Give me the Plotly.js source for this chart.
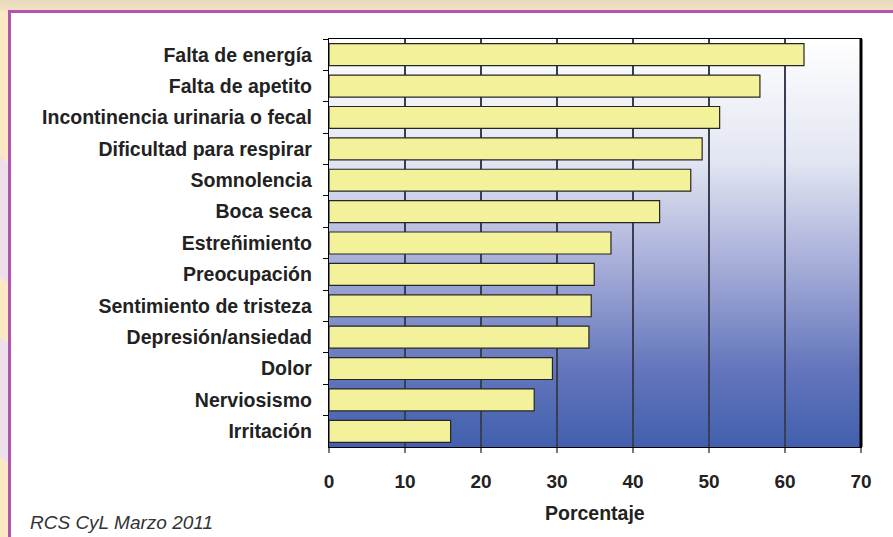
<!DOCTYPE html>
<html>
<head>
<meta charset="utf-8">
<script src="https://cdn.plot.ly/plotly-3.0.1.min.js"></script>
<style>
html,body{margin:0;padding:0;width:893px;height:537px;overflow:hidden;background:#fde8c6;}
#top{position:absolute;left:0;top:0;width:893px;height:11px;background:linear-gradient(to bottom,#e8d9c0,#f6e2c2);}
#deco1{position:absolute;left:-30px;top:150px;width:40px;height:120px;background:#eee0ea;transform:skewY(35deg);}
#deco2{position:absolute;left:-30px;top:330px;width:40px;height:120px;background:#eee0ea;transform:skewY(35deg);}
#panel{position:absolute;left:8px;top:10px;width:900px;height:540px;background:#ffffff;border-left:3px solid #b354b0;border-top:3px solid #b354b0;}
#chart{position:absolute;left:0;top:0;width:893px;height:537px;}
</style>
</head>
<body>
<div id="top"></div>
<div id="deco1"></div>
<div id="deco2"></div>
<div id="panel"></div>
<div id="chart"></div>
<script>
var categories = ["Falta de energía","Falta de apetito","Incontinencia urinaria o fecal","Dificultad para respirar","Somnolencia","Boca seca","Estreñimiento","Preocupación","Sentimiento de tristeza","Depresión/ansiedad","Dolor","Nerviosismo","Irritación"];
var values = [62.5, 56.7, 51.4, 49.1, 47.6, 43.5, 37.1, 34.9, 34.5, 34.2, 29.4, 27.0, 16.0];
var xTicks = [0,10,20,30,40,50,60,70];
var xTitle = "Porcentaje";
var sourceNote = "RCS CyL Marzo 2011";

var grad = '<svg xmlns="http://www.w3.org/2000/svg" width="100" height="100" preserveAspectRatio="none">' +
  '<defs><linearGradient id="g" x1="0" y1="0" x2="0" y2="1">' +
  '<stop offset="0" stop-color="#ffffff"/>' +
  '<stop offset="0.3" stop-color="#e2e5f2"/>' +
  '<stop offset="0.55" stop-color="#a7aed8"/>' +
  '<stop offset="0.8" stop-color="#6577bd"/>' +
  '<stop offset="1" stop-color="#4160ad"/>' +
  '</linearGradient></defs><rect width="100" height="100" fill="url(#g)"/></svg>';
var gradUri = 'data:image/svg+xml;base64,' + btoa(grad);

var fam = '"Liberation Sans", Arial, sans-serif';

var trace = {
  type: 'bar',
  orientation: 'h',
  y: categories,
  x: values,
  marker: {color: '#f3f29b', line: {color: '#262626', width: 1.2}},
  hoverinfo: 'x+y'
};

var layout = {
  width: 893, height: 537,
  margin: {l: 329, r: 32, t: 39, b: 90, pad: 0},
  paper_bgcolor: 'rgba(0,0,0,0)',
  plot_bgcolor: 'rgba(0,0,0,0)',
  bargap: 0.3,
  showlegend: false,
  font: {family: fam, size: 19, color: '#222'},
  xaxis: {
    range: [0, 70],
    tickvals: xTicks,
    ticktext: xTicks.map(String),
    tickfont: {family: fam, size: 19, color: '#222', weight: 'bold'},
    showgrid: true, gridcolor: '#3a3e55', gridwidth: 1.5,
    zeroline: false,
    showline: true, linecolor: '#000', linewidth: 1.2, mirror: true,
    ticks: 'outside', ticklen: 5, tickcolor: '#777', tickwidth: 1.5,
    ticklabelstandoff: 12,
    fixedrange: true
  },
  yaxis: {
    autorange: 'reversed',
    type: 'category',
    tickfont: {family: fam, size: 19.5, color: '#222', weight: 'bold'},
    showgrid: false,
    showline: true, linecolor: '#000', linewidth: 1.2, mirror: true,
    ticks: 'outside', tickson: 'boundaries', ticklen: 5, tickcolor: '#000', tickwidth: 1,
    ticklabelstandoff: 12,
    fixedrange: true
  },
  images: [{
    source: gradUri, xref: 'paper', yref: 'paper',
    x: 0, y: 1, sizex: 1, sizey: 1, sizing: 'stretch',
    xanchor: 'left', yanchor: 'top', layer: 'below'
  }],
  shapes: [{
    type: 'line', xref: 'paper', yref: 'paper', x0: 1, x1: 1, y0: 0, y1: 1,
    line: {color: '#000', width: 3}
  }],
  annotations: [
    {text: '<b>' + xTitle + '</b>', xref: 'paper', yref: 'paper', x: 0.5, y: -0.162,
     xanchor: 'center', yanchor: 'middle', showarrow: false,
     font: {family: fam, size: 19.5, color: '#222'}},
    {text: '<i>' + sourceNote + '</i>', xref: 'paper', yref: 'paper', x: -0.565, y: -0.184,
     xanchor: 'left', yanchor: 'middle', showarrow: false,
     font: {family: fam, size: 19, color: '#333'}}
  ]
};

Plotly.newPlot('chart', [trace], layout, {displayModeBar: false, staticPlot: true});
</script>
</body>
</html>
